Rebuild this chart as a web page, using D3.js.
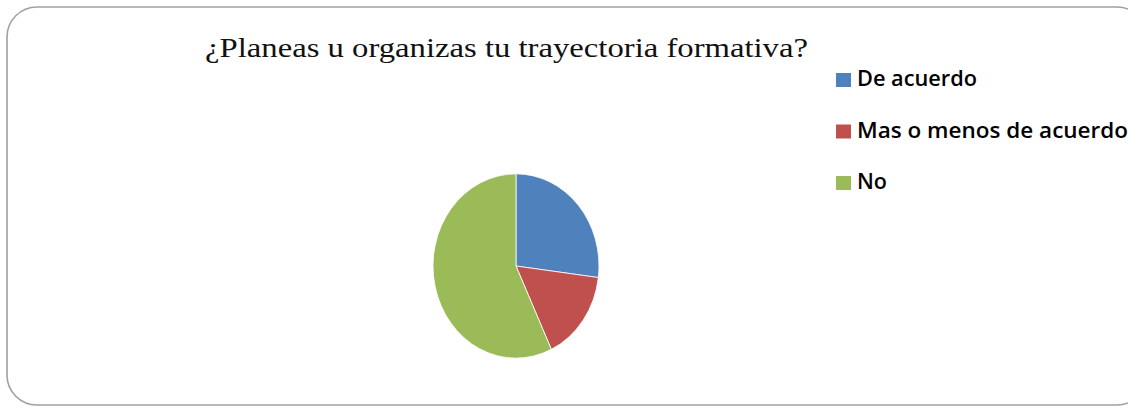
<!DOCTYPE html>
<html><head><meta charset="utf-8">
<script src="https://cdn.jsdelivr.net/npm/d3@7"></script>
<style>html,body{margin:0;padding:0;background:#fff;overflow:hidden}</style>
</head><body>
<svg id="c" width="1128" height="408"></svg>
<script>
const categories = ["De acuerdo", "Mas o menos de acuerdo", "No"];
const values = [27, 16, 57];
const colors = ["#4F81BD", "#C0504D", "#9BBB59"];
const title = "¿Planeas u organizas tu trayectoria formativa?";

const svg = d3.select("#c");
svg.append("rect").attr("x", 7).attr("y", 7).attr("width", 1140).attr("height", 398)
  .attr("rx", 30).attr("ry", 30).attr("fill", "#fff").attr("stroke", "#a0a0a0").attr("stroke-width", 1.6);

svg.append("text").attr("x", 205).attr("y", 57)
  .attr("font-family", "Liberation Serif, Times New Roman, serif").attr("font-size", 27)
  .attr("textLength", 603).attr("lengthAdjust", "spacingAndGlyphs")
  .attr("fill", "#111").text(title);

const pie = d3.pie().sort(null).value(d => d)(values);
const arc = d3.arc().innerRadius(0).outerRadius(83);
const g = svg.append("g").attr("transform", "translate(516,266) scale(1,1.11)");
g.selectAll("path").data(pie).join("path")
  .attr("d", arc).attr("fill", (d, i) => colors[i])
  .attr("stroke", "#fff").attr("stroke-width", 0.8).attr("vector-effect", "non-scaling-stroke");

const leg = svg.append("g");
const ly = d3.scalePoint().domain(categories).range([80, 183]);
const widths = [120, 271, 30];
categories.forEach((c, i) => {
  leg.append("rect").attr("x", 836).attr("y", ly(c) - 7).attr("width", 15).attr("height", 14).attr("fill", colors[i]);
  leg.append("text").attr("x", 857).attr("y", ly(c) + 6)
    .attr("font-family", "Open Sans, DejaVu Sans, sans-serif").attr("font-size", 21).attr("font-weight", 600)
    .attr("textLength", widths[i]).attr("lengthAdjust", "spacingAndGlyphs")
    .attr("fill", "#000").text(c);
});
</script>
</body></html>
